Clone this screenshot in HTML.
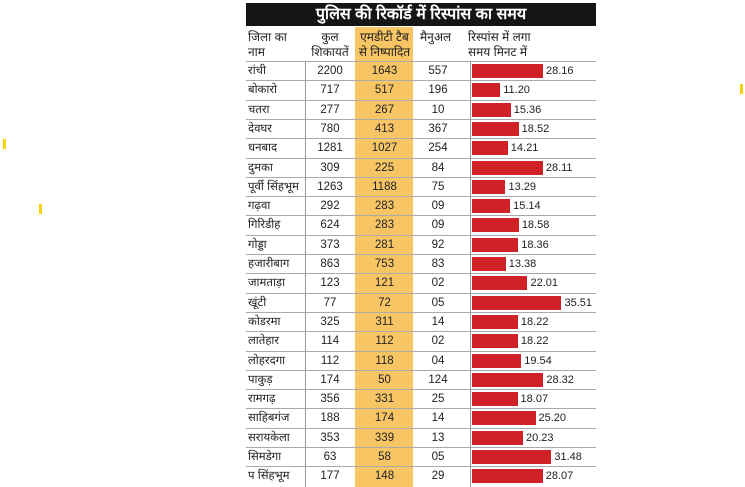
<!DOCTYPE html>
<html><head><meta charset="utf-8"><style>
body{margin:0;width:745px;height:487px;background:#fff;position:relative;overflow:hidden;font-family:"Liberation Sans Narrow","Liberation Sans",sans-serif;color:#222}
.a{position:absolute}
.t{left:246px;top:3px;width:350px;height:23px;background:#151515;color:#fff;font-size:16px;font-weight:bold;text-align:center;line-height:23px}
.y{left:355px;top:27px;width:58px;height:460px;background:#f8c565}
.v{top:61px;width:1px;height:426px;background:#999}
.h{left:246px;width:350px;height:1px;background:#aaa}
.c{font-size:11.5px;line-height:19px;height:19px}
.hd{font-size:12px;line-height:15px}
.b{left:472px;height:14px;background:#cf2128}
</style></head><body>
<div class="a t">पुलिस की रिकॉर्ड में रिस्पांस का समय</div>
<div class="a y"></div>
<div class="a" style="left:3px;top:139px;width:3px;height:10px;background:#f5d20a"></div>
<div class="a" style="left:39px;top:204px;width:3px;height:10px;background:#f5d20a"></div>
<div class="a" style="left:740px;top:84px;width:3px;height:10px;background:#f5d20a"></div>
<div class="a hd" style="left:248px;top:30px">जिला का<br>नाम</div>
<div class="a hd" style="left:304px;top:30px;width:52px;text-align:center">कुल<br>शिकायतें</div>
<div class="a hd" style="left:356px;top:30px;width:57px;text-align:center">एमडीटी टैब<br>से निष्पादित</div>
<div class="a hd" style="left:420px;top:30px">मैनुअल</div>
<div class="a hd" style="left:468px;top:30px">रिस्पांस में लगा<br>समय मिनट में</div>
<div class="a v" style="left:305px"></div>
<div class="a v" style="left:470px"></div>
<div id="r"></div>
<script>
const d=[["रांची",2200,1643,557,"28.16"],["बोकारो",717,517,196,"11.20"],["चतरा",277,267,"10","15.36"],["देवघर",780,413,367,"18.52"],["धनबाद",1281,1027,254,"14.21"],["दुमका",309,225,84,"28.11"],["पूर्वी सिंहभूम",1263,1188,75,"13.29"],["गढ़वा",292,283,"09","15.14"],["गिरिडीह",624,283,"09","18.58"],["गोड्डा",373,281,92,"18.36"],["हजारीबाग",863,753,83,"13.38"],["जामताड़ा",123,121,"02","22.01"],["खूंटी",77,72,"05","35.51"],["कोडरमा",325,311,14,"18.22"],["लातेहार",114,112,"02","18.22"],["लोहरदगा",112,118,"04","19.54"],["पाकुड़",174,50,124,"28.32"],["रामगढ़",356,331,25,"18.07"],["साहिबगंज",188,174,14,"25.20"],["सरायकेला",353,339,13,"20.23"],["सिमडेगा",63,58,"05","31.48"],["प सिंहभूम",177,148,29,"28.07"]];
let h="";
d.forEach((r,i)=>{const y=61+i*19.3;
h+=`<div class="a h" style="top:${y}px"></div>`;
h+=`<div class="a c" style="left:248px;top:${y+1}px">${r[0]}</div>`;
h+=`<div class="a c" style="left:306px;top:${y+1}px;width:48px;text-align:center">${r[1]}</div>`;
h+=`<div class="a c" style="left:356px;top:${y+1}px;width:57px;text-align:center">${r[2]}</div>`;
h+=`<div class="a c" style="left:414px;top:${y+1}px;width:48px;text-align:center">${r[3]}</div>`;
const w=parseFloat(r[4])*2.52;
h+=`<div class="a b" style="top:${y+3}px;width:${w}px"></div>`;
h+=`<div class="a c" style="left:${475+w}px;top:${y+1}px;font-size:11px">${r[4]}</div>`;});
document.getElementById("r").innerHTML=h;
</script>
</body></html>
